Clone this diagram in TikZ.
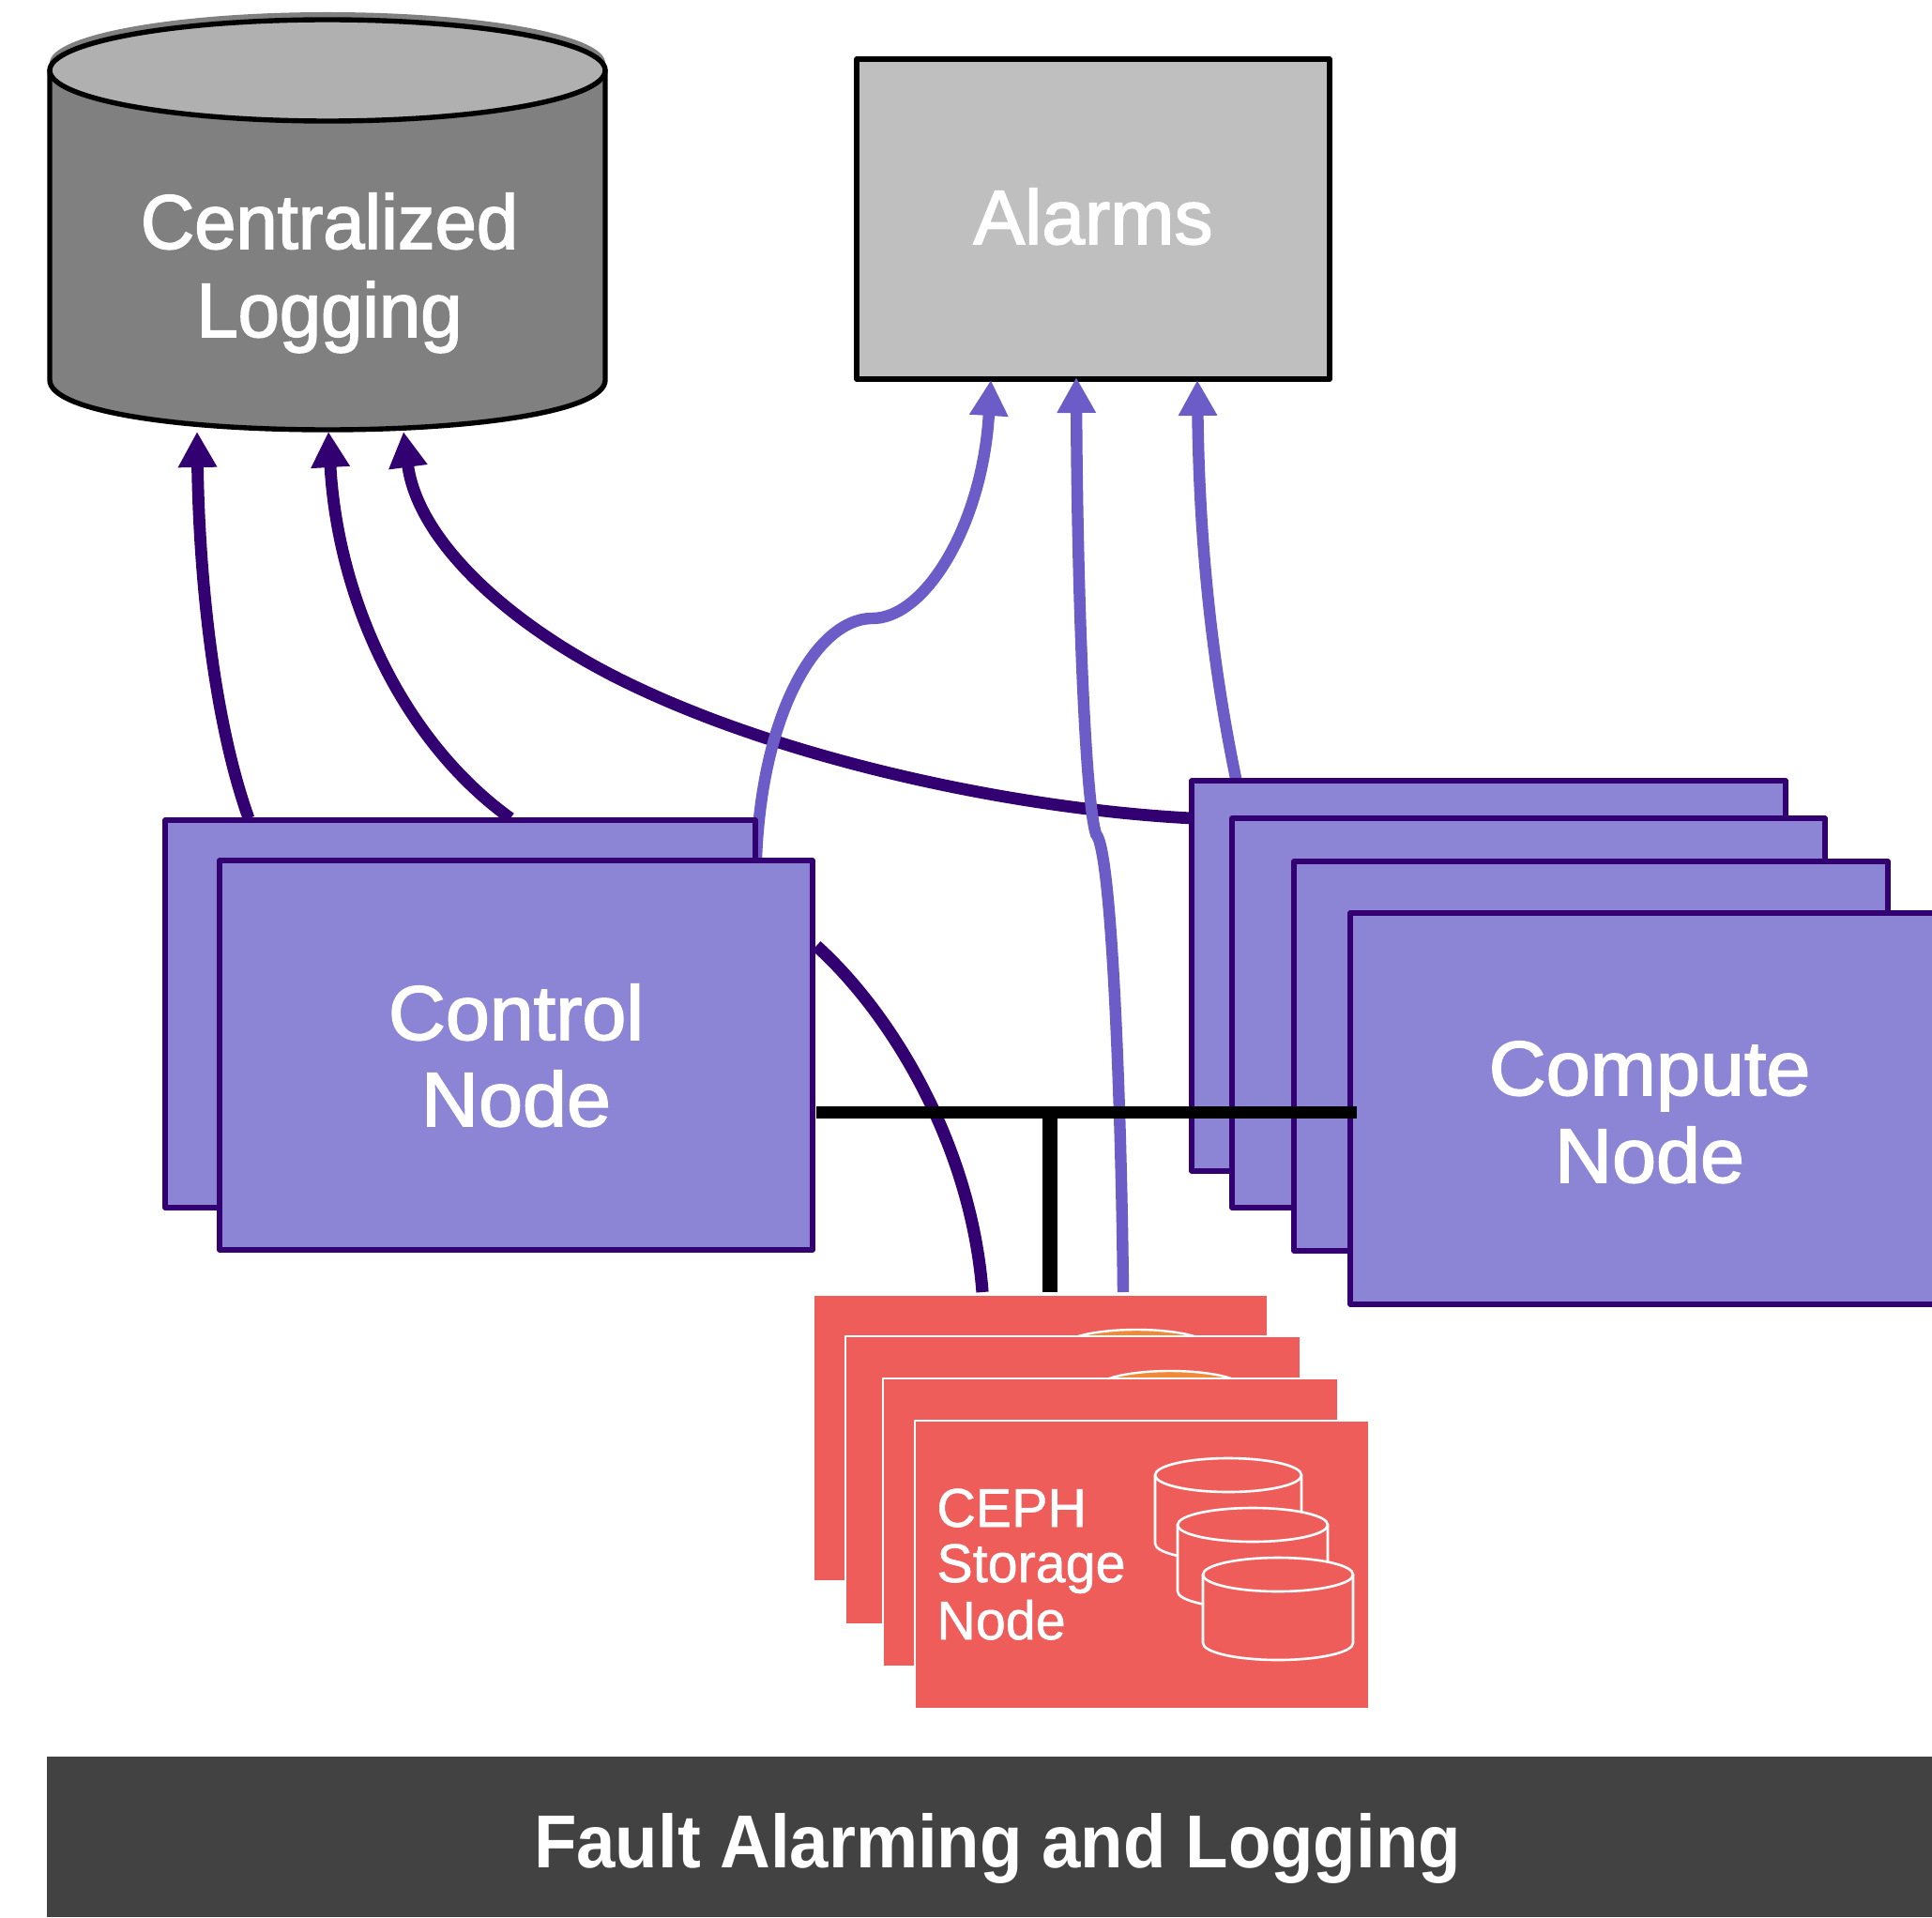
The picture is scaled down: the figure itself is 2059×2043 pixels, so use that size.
\documentclass[tikz,border=0pt]{standalone}
\usepackage{fontspec}
\setmainfont{Liberation Sans}
\newfontfamily\labfont[FakeBold=2,FakeStretch=1.03]{Liberation Sans}
\newfontfamily\labfontb[FakeBold=2,FakeStretch=0.97]{Liberation Sans}
\newfontfamily\labfontc[FakeBold=2,FakeStretch=1.0]{Liberation Sans}
\newfontfamily\smallfont[FakeBold=1,FakeStretch=0.99]{Liberation Sans}
\newfontfamily\titlefont[FakeStretch=0.93]{Liberation Sans Bold}
\usetikzlibrary{arrows.meta,fit}
\definecolor{boxfill}{HTML}{8C84D4}
\definecolor{dark}{HTML}{330072}
\definecolor{lite}{HTML}{6B5CC8}
\definecolor{redbox}{HTML}{EF5D5B}
\definecolor{orng}{HTML}{EE8A3A}
\definecolor{barc}{HTML}{424242}
\tikzset{
 x=0.5pt,y=-0.5pt,
 nodebox/.style={draw=dark,fill=boxfill,line width=2.6pt,line join=round,inner sep=0pt,outer sep=0pt},
 alarmbox/.style={draw=black,fill=black!25,line width=2.6pt,line join=round,inner sep=0pt,outer sep=0pt},
 cephbox/.style={draw=white,fill=redbox,line width=1.2pt,line join=round,inner sep=0pt,outer sep=0pt},
 darkarrow/.style={draw=dark,line width=6.4pt,-{Triangle[length=19pt,width=19.5pt]}},
 litearrow/.style={draw=lite,line width=6.2pt,-{Triangle[length=19pt,width=19.5pt]}},
 darkline/.style={draw=dark,line width=6.6pt},
 busline/.style={draw=black},
 lab/.style={text=white,anchor=base,inner sep=0pt,font=\labfont\fontsize{41}{41}\selectfont},
 labb/.style={text=white,anchor=base,inner sep=0pt,font=\labfontb\fontsize{41}{41}\selectfont},
 labc/.style={text=white,anchor=base,inner sep=0pt,font=\labfontc\fontsize{41}{41}\selectfont},
 cephlab/.style={text=white,anchor=base west,inner sep=0pt,font=\smallfont\fontsize{29}{29}\selectfont},
 icon/.style={draw=white,line width=1.3pt,fill=redbox},
}
\newcommand{\iconcyl}[5]{% cx top-centre bottom-side rx ry
 \pgfmathsetmacro\xl{#1-#4}\pgfmathsetmacro\xr{#1+#4}
 \pgfmathsetmacro\ya{#3+0.55*#5}\pgfmathsetmacro\yb{#3+#5}
 \pgfmathsetmacro\xc{#1-0.55*#4}\pgfmathsetmacro\xd{#1+0.55*#4}
 \draw[icon,line join=round] (\xl,#2) -- (\xl,#3) .. controls (\xl,\ya) and (\xc,\yb) .. (#1,\yb)
   .. controls (\xd,\yb) and (\xr,\ya) .. (\xr,#3) -- (\xr,#2) -- cycle;
 \draw[icon] (#1,#2) ellipse [x radius=#4,y radius=#5];
}
\begin{document}
\begin{tikzpicture}
\clip (0,0) rectangle (2059,2043);
\fill[white] (0,0) rectangle (2059,2043);

% anchors of the connectors
\coordinate (d1s) at (265,872);  \coordinate (d1e) at (210,460);
\coordinate (d2s) at (544,872);  \coordinate (d2e) at (350,460);
\coordinate (d3s) at (1270,872); \coordinate (d3m) at (667,727); \coordinate (d3e) at (430,460);
\coordinate (a1s) at (806,915);  \coordinate (a1m) at (928,659); \coordinate (a1e) at (1056,405);
\coordinate (a2s) at (1197,1377); \coordinate (a2m) at (1168,889); \coordinate (a2e) at (1147,402);
\coordinate (a3s) at (1318,834); \coordinate (a3e) at (1276,405);
\coordinate (d4s) at (870,1008); \coordinate (d4e) at (1047,1377);
\coordinate (busl) at (870,1185); \coordinate (busr) at (1446,1185);
\coordinate (bust) at (1119,1185); \coordinate (busb) at (1119,1377);

% centralized logging
\fill[gray] (349,67) ellipse [x radius=296,y radius=54];
\draw[draw=black,fill=gray,line width=2.7pt,line join=round]
  (53,75) -- (53,405) .. controls (53,438) and (190,458) .. (349,458)
  .. controls (508,458) and (645,438) .. (645,405) -- (645,75) -- cycle;
\draw[draw=black,fill=black!31,line width=2.7pt] (349,75) ellipse [x radius=296,y radius=54];
\node[inner sep=0pt,fit={(53,21)(645,458)}] (logging) {};
\node[labb] (loga) at (351,265) {Centralized};
\node[labb] (logb) at (351,359) {Logging};

% alarms
\node[alarmbox,fit={(913,63)(1417,404)}] (alarms) {};
\node[labc] (alarmt) at (1165,260) {Alarms};

% connectors behind the boxes
\draw[darkarrow] (d1s) .. controls (225,760) and (212,600) .. (d1e);
\draw[darkarrow] (d2s) .. controls (430,790) and (360,640) .. (d2e);
\draw[darkarrow] (d3s) .. controls (1080,862) and (837,810) .. (d3m)
   .. controls (540,665) and (445,575) .. (d3e);
\draw[litearrow] (a1s) .. controls (812,760) and (870,661) .. (a1m)
   .. controls (985,661) and (1047,560) .. (a1e);
\draw[litearrow] (a3s) .. controls (1290,700) and (1278,570) .. (a3e);
\draw[litearrow] (a2s) .. controls (1195,1180) and (1185,905) .. (a2m)
   .. controls (1156,850) and (1148,620) .. (a2e);
\draw[darkline] (d4s) .. controls (950,1080) and (1035,1220) .. (d4e);

% control nodes
\node[nodebox,fit={(176,874)(805,1287)}] (ctlb) {};
\node[nodebox,fit={(234,917)(866,1332)}] (ctlf) {};
\node[lab] (ctla) at (550,1108) {Control};
\node[lab] (ctlc) at (550,1200) {Node};

% compute nodes
\node[nodebox,fit={(1270,832)(1903,1248)}] (cmpa) {};
\node[nodebox,fit={(1313,872)(1945,1287)}] (cmpb) {};
\node[nodebox,fit={(1379,918)(2012,1333)}] (cmpc) {};
\node[nodebox,fit={(1439,973)(2075,1390)}] (cmpd) {};
\node[lab] (cmpt) at (1758,1167) {Compute};
\node[lab] (cmpu) at (1758,1260) {Node};

% bus
\draw[busline,line width=6.5pt] (busl) -- (busr);
\draw[busline,line width=8pt] (bust) -- (busb);

% ceph stack
\node[cephbox,fit={(867,1380)(1351,1685)}] (cepha) {};
\draw[draw=white,fill=orng,line width=1.2pt] (1211,1435) ellipse [x radius=78,y radius=18];
\node[cephbox,fit={(901,1424)(1386,1731)}] (cephb) {};
\draw[draw=white,fill=orng,line width=1.2pt] (1247,1479) ellipse [x radius=78,y radius=18];
\node[cephbox,fit={(941,1469)(1426,1776)}] (cephc) {};
\node[cephbox,fit={(975,1514)(1459,1821)}] (cephd) {};
\iconcyl{1309}{1572}{1645}{78}{18}
\iconcyl{1335}{1625}{1696}{80}{18}
\iconcyl{1362}{1678}{1751}{80}{18}
\node[cephlab] (cepht) at (998,1627) {CEPH};
\node[cephlab] (cephu) at (998,1686) {Storage};
\node[cephlab] (cephv) at (998,1747) {Node};

% title bar
\node[fill=barc,inner sep=0pt,outer sep=0pt,fit={(50,1872)(2059,2043)}] (bar) {};
\node[text=white,anchor=base,inner sep=0pt,font=\titlefont\fontsize{40}{40}\selectfont] (title) at (1063,1990) {Fault Alarming and Logging};
\end{tikzpicture}
\end{document}
